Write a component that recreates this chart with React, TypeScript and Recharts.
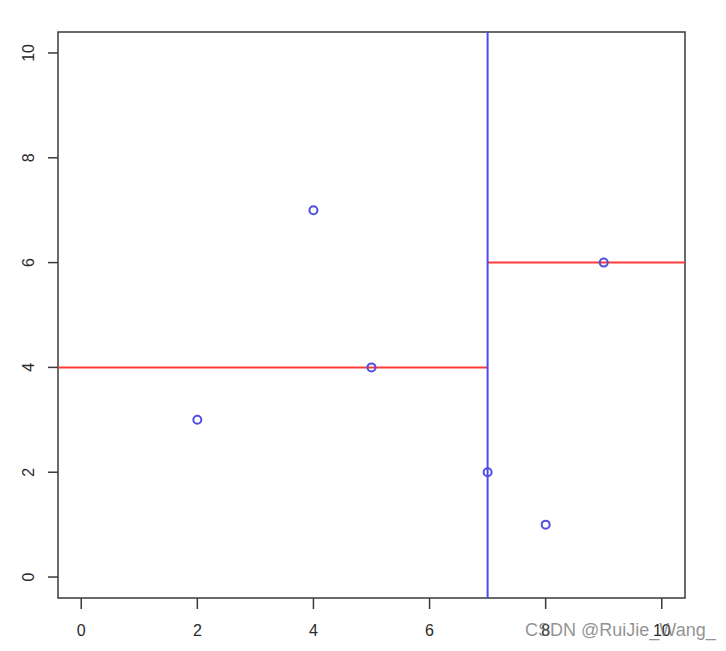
import React from "react";
import {
  ScatterChart,
  Scatter,
  XAxis,
  YAxis,
  ReferenceLine,
  ReferenceArea,
} from "recharts";

const xValues = [2, 4, 5, 7, 8, 9];
const yValues = [3, 7, 4, 2, 1, 6];
const xTicks = [0, 2, 4, 6, 8, 10];
const yTicks = [0, 2, 4, 6, 8, 10];
const domainMin = -0.4;
const domainMax = 10.4;
const splitX = 7;
const leftSplitY = 4;
const rightSplitY = 6;

const points = xValues.map((x, i) => ({ x, y: yValues[i] }));

const AXIS = "#3a3a3a";
const LABEL = "#2a2a2a";

const YTick = (props: any) => {
  const { x, y, payload } = props;
  return (
    <text
      x={x}
      y={y}
      transform={`rotate(-90, ${x}, ${y})`}
      textAnchor="middle"
      fontSize={16}
      fontFamily="Liberation Sans, Arial, sans-serif"
      fill={LABEL}
    >
      {payload.value}
    </text>
  );
};

const Dot = (props: any) => {
  const { cx, cy } = props;
  return <circle cx={cx} cy={cy} r={4} fill="none" stroke="#4f4fe0" strokeWidth={2} />;
};

export default function App() {
  return (
    <div style={{ position: "relative", width: 710, height: 635 }}>
      <ScatterChart
        width={710}
        height={635}
        margin={{ top: 24, right: 33, bottom: 5, left: 0 }}
      >
        <XAxis
          type="number"
          dataKey="x"
          domain={[domainMin, domainMax]}
          ticks={xTicks}
          allowDataOverflow
          axisLine={false}
          tickLine={{ stroke: AXIS, strokeWidth: 1.5 }}
          tickSize={11}
          tickMargin={16}
          height={40}
          tick={{ fontSize: 16, fill: LABEL, fontFamily: "Liberation Sans, Arial, sans-serif" }}
        />
        <YAxis
          type="number"
          dataKey="y"
          domain={[domainMin, domainMax]}
          ticks={yTicks}
          allowDataOverflow
          axisLine={false}
          tickLine={{ stroke: AXIS, strokeWidth: 1.5 }}
          tickSize={10}
          tickMargin={14}
          width={50}
          tick={<YTick />}
        />
        <ReferenceArea
          x1={domainMin}
          x2={domainMax}
          y1={domainMin}
          y2={domainMax}
          fill="none"
          stroke={AXIS}
          strokeWidth={1.5}
          fillOpacity={0}
        />
        <ReferenceLine
          segment={[
            { x: domainMin, y: leftSplitY },
            { x: splitX, y: leftSplitY },
          ]}
          stroke="#ff3a3a"
          strokeWidth={2}
        />
        <ReferenceLine
          segment={[
            { x: splitX, y: rightSplitY },
            { x: domainMax, y: rightSplitY },
          ]}
          stroke="#ff3a3a"
          strokeWidth={2}
        />
        <ReferenceLine x={splitX} stroke="#4a4af5" strokeWidth={2} />
        <Scatter data={points} shape={<Dot />} isAnimationActive={false} />
      </ScatterChart>
      <div
        style={{
          position: "absolute",
          left: 517,
          top: 612,
          fontSize: 18,
          fontFamily: "Liberation Sans, Arial, sans-serif",
          color: "rgba(110,110,110,0.75)",
          whiteSpace: "nowrap",
        }}
      >
        CSDN @RuiJie_Wang_
      </div>
    </div>
  );
}
